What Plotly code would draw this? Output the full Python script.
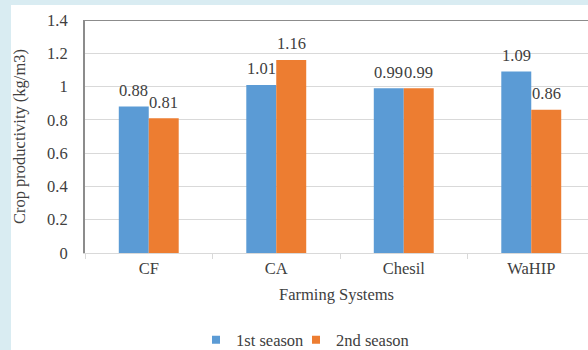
import plotly.graph_objects as go

categories = ["CF", "CA", "Chesil", "WaHIP"]
season1 = [0.88, 1.01, 0.99, 1.09]
season2 = [0.81, 1.16, 0.99, 0.86]
series_names = ["1st season", "2nd season"]
y_ticks = [0, 0.2, 0.4, 0.6, 0.8, 1, 1.2, 1.4]
y_tick_labels = ["0", "0.2", "0.4", "0.6", "0.8", "1", "1.2", "1.4"]

colors = ["#5B9BD5", "#ED7D31"]
FONT = "Liberation Serif, Times New Roman, serif"
TXT = "#404040"
FS = 16.5
PAGE_BG = "#d9ecf2"

W, H = 588, 350
ML, MR, MT, MB = 85, 0, 20, 97
PW, PH = W - ML - MR, H - MT - MB

legend_ids = ["legend", "legend2"]
legend_left_px = [196, 296]

fig = go.Figure()
for name, vals, c in zip(series_names, [season1, season2], colors):
    fig.add_trace(go.Bar(
        x=categories, y=vals, name=name,
        marker=dict(color=c, line=dict(width=0)),
        showlegend=False,
    ))
for name, c, lg in zip(series_names, colors, legend_ids):
    fig.add_trace(go.Scatter(
        x=[None], y=[None], mode="markers", name=name, legend=lg,
        marker=dict(symbol="square", size=8, color=c),
    ))

# data labels, anchored at each bar's value
for vals, shift in zip([season1, season2], [-15, 15]):
    for cat, v in zip(categories, vals):
        fig.add_annotation(x=cat, y=v, xref="x", yref="y", text=f"{v:.2f}",
                           showarrow=False, xshift=shift, yshift=16,
                           xanchor="center", yanchor="middle",
                           font=dict(family=FONT, size=FS, color=TXT))

# white card over light-blue page
fig.add_shape(type="rect", xref="paper", yref="paper", layer="below",
              x0=(11 - ML) / PW, x1=1.02, y0=-(MB + 5) / PH, y1=1 + (MT - 5) / PH,
              fillcolor="white", line=dict(width=0))
# top border line
fig.add_shape(type="line", xref="paper", yref="y", x0=0, x1=1, y0=1.4, y1=1.4,
              line=dict(color="#8c8c8c", width=2))

legend_style = dict(orientation="h", y=-(340 - (MT + PH)) / PH,
                    xanchor="left", yanchor="middle", itemwidth=30,
                    font=dict(family=FONT, size=FS, color=TXT), bgcolor="rgba(0,0,0,0)")

fig.update_layout(
    width=W, height=H, autosize=False,
    margin=dict(l=ML, r=MR, t=MT, b=MB, autoexpand=False),
    paper_bgcolor=PAGE_BG, plot_bgcolor="white",
    font=dict(family=FONT, size=FS, color=TXT),
    bargap=0.53, bargroupgap=0,
    xaxis=dict(
        type="category", range=[-0.5, 3.445], automargin=False,
        showline=True, linecolor="#d9d9d9", linewidth=1,
        ticks="outside", tickson="boundaries", ticklen=5, tickcolor="#d9d9d9",
        tickfont=dict(family=FONT, size=FS, color=TXT),
        showgrid=False,
        title=dict(text="Farming Systems", font=dict(family=FONT, size=FS, color=TXT), standoff=11),
    ),
    yaxis=dict(
        range=[0, 1.4], tickvals=y_ticks, ticktext=y_tick_labels, automargin=False,
        showgrid=True, gridcolor="#d9d9d9", gridwidth=1, zeroline=False,
        showline=True, linecolor="#8c8c8c", linewidth=2,
        ticks="", ticklabelstandoff=12,
        tickfont=dict(family=FONT, size=FS, color=TXT),
        title=dict(text="Crop productivity (kg/m3)", font=dict(family=FONT, size=FS, color=TXT), standoff=17),
    ),
    legend=dict(x=(legend_left_px[0] - ML) / PW, **legend_style),
    legend2=dict(x=(legend_left_px[1] - ML) / PW, **legend_style),
)

fig.write_html(
    "out.html",
    config={"displayModeBar": False},
    post_script=f"document.body.style.margin='0';document.body.style.background='{PAGE_BG}';",
)
